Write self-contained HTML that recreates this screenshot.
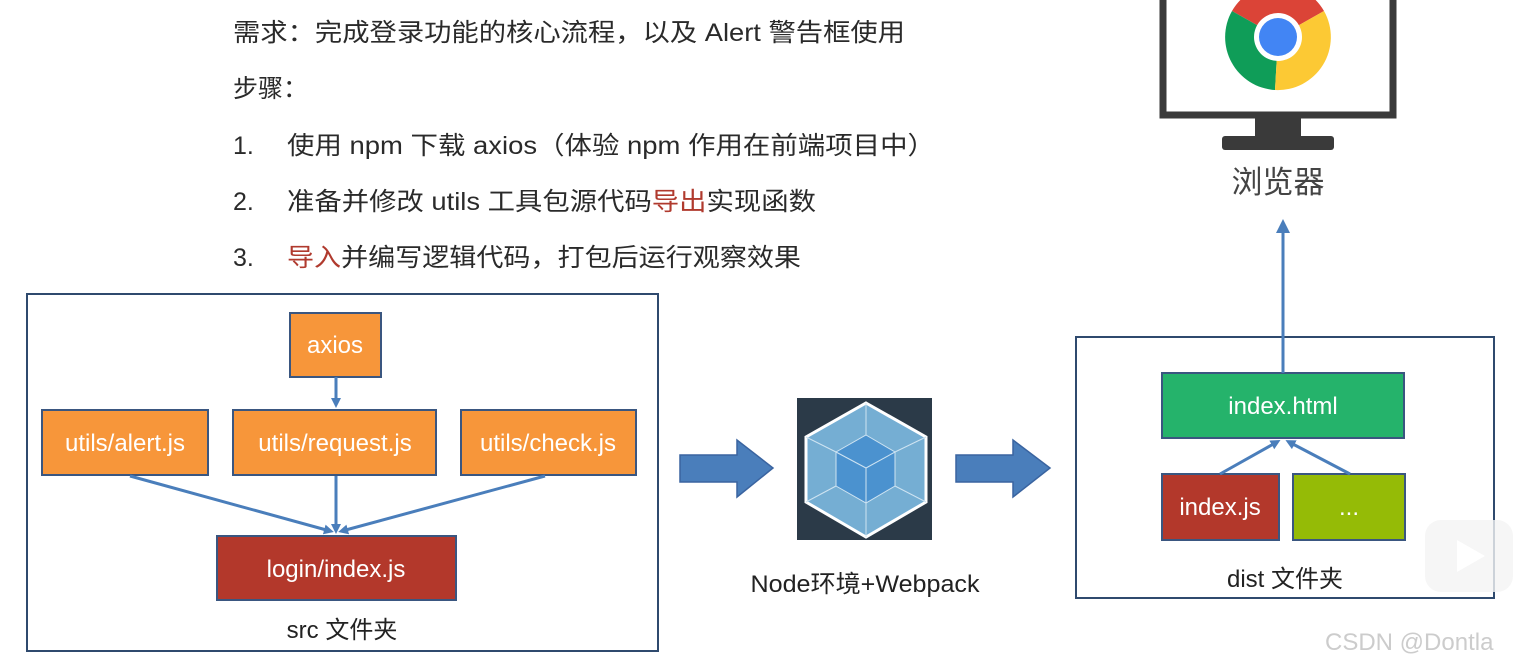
<!DOCTYPE html>
<html><head><meta charset="utf-8"><style>
html,body{margin:0;padding:0;background:#fff;}
svg{display:block;}
text{font-family:"Liberation Sans","Noto Sans CJK SC",sans-serif;}
</style></head><body>
<svg width="1522" height="666" viewBox="0 0 1522 666" xmlns="http://www.w3.org/2000/svg">
<defs>
<marker id="ah" markerWidth="10" markerHeight="10" refX="6" refY="5" orient="auto" markerUnits="userSpaceOnUse">
<path d="M0,0 L10,5 L0,10 z" fill="#4a7ebb"/></marker>
<marker id="ah2" markerWidth="14" markerHeight="14" refX="9" refY="7" orient="auto" markerUnits="userSpaceOnUse">
<path d="M0,0 L14,7 L0,14 z" fill="#4a7ebb"/></marker>
</defs>
<g font-size="25" fill="#2a2a2a">
<text x="233" y="41" textLength="672" lengthAdjust="spacingAndGlyphs">需求：完成登录功能的核心流程，以及 Alert 警告框使用</text>
<text x="233" y="97">步骤：</text>
<text x="233" y="154">1.</text><text x="287" y="154" textLength="648" lengthAdjust="spacingAndGlyphs">使用 npm 下载 axios（体验 npm 作用在前端项目中）</text>
<text x="233" y="210">2.</text><text x="287" y="210" textLength="529" lengthAdjust="spacingAndGlyphs">准备并修改 utils 工具包源代码<tspan fill="#b03a2e">导出</tspan>实现函数</text>
<text x="233" y="266">3.</text><text x="287" y="266" textLength="514" lengthAdjust="spacingAndGlyphs"><tspan fill="#b03a2e">导入</tspan>并编写逻辑代码，打包后运行观察效果</text>
</g>
<rect x="27" y="294" width="631" height="357" fill="#fff" stroke="#2f4a6e" stroke-width="2"/>
<g stroke="#3a5680" stroke-width="2">
<rect x="290" y="313" width="91" height="64" fill="#f7963a"/>
<rect x="42" y="410" width="166" height="65" fill="#f7963a"/>
<rect x="233" y="410" width="203" height="65" fill="#f7963a"/>
<rect x="461" y="410" width="175" height="65" fill="#f7963a"/>
<rect x="217" y="536" width="239" height="64" fill="#b3382b"/>
</g>
<g font-size="24" fill="#fff" text-anchor="middle">
<text x="335" y="353">axios</text>
<text x="125" y="451">utils/alert.js</text>
<text x="335" y="451">utils/request.js</text>
<text x="548" y="451">utils/check.js</text>
<text x="336" y="577">login/index.js</text>
</g>
<g stroke="#4a7ebb" stroke-width="3" fill="none">
<line x1="336" y1="377" x2="336" y2="404" marker-end="url(#ah)"/>
<line x1="130" y1="476" x2="330" y2="531" marker-end="url(#ah)"/>
<line x1="336" y1="476" x2="336" y2="530" marker-end="url(#ah)"/>
<line x1="545" y1="476" x2="342" y2="531" marker-end="url(#ah)"/>
</g>
<text x="342" y="638" font-size="24" fill="#222" text-anchor="middle">src 文件夹</text>
<path d="M680,455 H737 V440 L773,468 L737,497 V482 H680 Z" fill="#4a7ebb" stroke="#3a64a0" stroke-width="1.5"/>
<path d="M956,455 H1013 V440 L1050,468 L1013,497 V482 H956 Z" fill="#4a7ebb" stroke="#3a64a0" stroke-width="1.5"/>
<rect x="797" y="398" width="135" height="142" fill="#2b3a48"/>
<polygon points="866,403 926,437 926,502 866,537 806,502 806,437" fill="#75aed3" stroke="#fff" stroke-width="3"/>
<polygon points="866,435 895,452 895,486 866,503 836,486 836,452" fill="#4b92cf" stroke="#cfe4f2" stroke-width="1"/>
<g stroke="#cfe4f2" stroke-width="1">
<line x1="806" y1="437" x2="836" y2="452"/><line x1="926" y1="437" x2="895" y2="452"/>
<line x1="866" y1="403" x2="866" y2="435"/><line x1="866" y1="537" x2="866" y2="503"/>
<line x1="806" y1="502" x2="836" y2="486"/><line x1="926" y1="502" x2="895" y2="486"/>
<line x1="866" y1="468" x2="836" y2="452"/><line x1="866" y1="468" x2="895" y2="452"/><line x1="866" y1="468" x2="866" y2="503"/>
</g>
<text x="865" y="592" font-size="24" fill="#222" text-anchor="middle" textLength="229" lengthAdjust="spacingAndGlyphs">Node环境+Webpack</text>
<rect x="1076" y="337" width="418" height="261" fill="#fff" stroke="#2f4a6e" stroke-width="2"/>
<g stroke="#3a5680" stroke-width="2">
<rect x="1162" y="373" width="242" height="65" fill="#25b36b"/>
<rect x="1162" y="474" width="117" height="66" fill="#b3382b"/>
<rect x="1293" y="474" width="112" height="66" fill="#95bb06"/>
</g>
<g font-size="24" fill="#fff" text-anchor="middle">
<text x="1283" y="414">index.html</text>
<text x="1220" y="515">index.js</text>
<text x="1349" y="515">...</text>
</g>
<g stroke="#4a7ebb" stroke-width="3" fill="none">
<line x1="1220" y1="474" x2="1277" y2="442" marker-end="url(#ah)"/>
<line x1="1350" y1="474" x2="1289" y2="442" marker-end="url(#ah)"/>
<line x1="1283" y1="373" x2="1283" y2="224" marker-end="url(#ah2)"/>
</g>
<text x="1285" y="587" font-size="24" fill="#222" text-anchor="middle">dist 文件夹</text>
<path d="M1163,-5 H1393 V115 H1163 Z" fill="#fff" stroke="#3a3a3a" stroke-width="7"/>
<rect x="1255" y="116" width="46" height="22" fill="#3a3a3a"/>
<rect x="1222" y="136" width="112" height="14" rx="3" fill="#3a3a3a"/>
<g transform="translate(1278,37)">
<path d="M0,0 L46,-26 A53,53 0 0 0 -46,-26 Z" fill="#db4437"/>
<path d="M0,0 L-46,-26 A53,53 0 0 0 -3,53 Z" fill="#0f9d58"/>
<path d="M0,0 L-3,53 A53,53 0 0 0 46,-26 Z" fill="#fcc934"/>
<circle r="24" fill="#fff"/><circle r="19" fill="#4285f4"/>
</g>
<text x="1278" y="193" font-size="31" fill="#444" text-anchor="middle">浏览器</text>
<rect x="1425" y="520" width="88" height="72" rx="16" fill="#f4f4f4" opacity="0.8"/>
<path d="M1457,540 L1485,556 L1457,572 Z" fill="#fff"/>
<text x="1325" y="650" font-size="24" fill="#ccc">CSDN @Dontla</text>
</svg>
</body></html>
